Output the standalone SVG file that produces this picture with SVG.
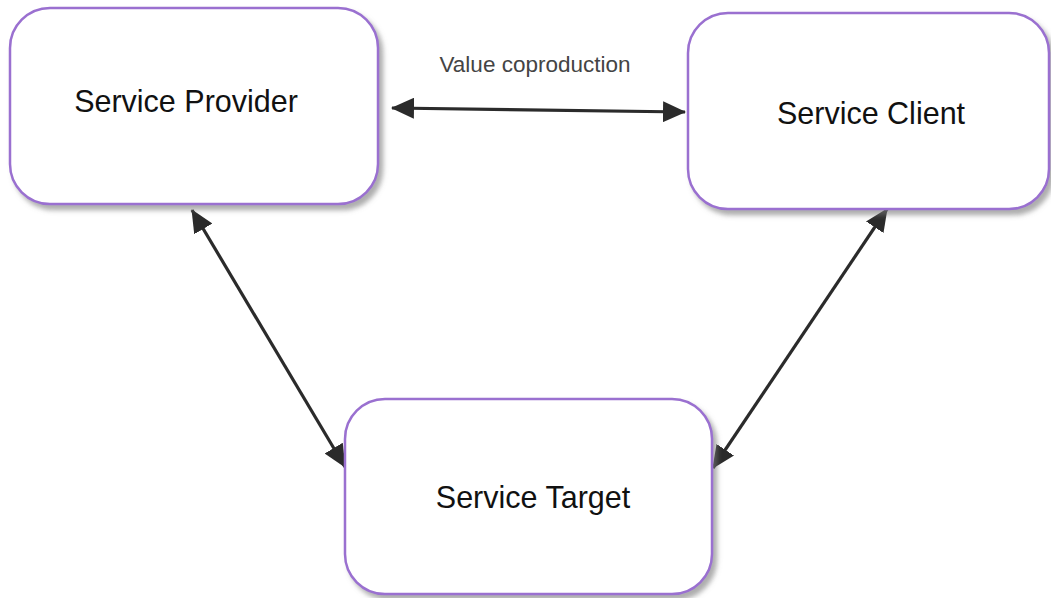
<svg xmlns="http://www.w3.org/2000/svg" width="1051" height="598" viewBox="0 0 1051 598">
  <style>
    .box { fill: #ffffff; stroke: #9a70d0; stroke-width: 2.5; filter: url(#shadow); }
    .label { font-family: "Liberation Sans", Arial, sans-serif; font-size: 30.5px; fill: #111111; text-anchor: middle; }
    .edge-label { font-family: "Liberation Sans", Arial, sans-serif; font-size: 22.5px; fill: #444444; text-anchor: middle; }
    .conn { stroke: #2b2b2b; stroke-width: 3.2; fill: none; marker-start: url(#arrow); marker-end: url(#arrow); }
  </style>
  <defs>
    <filter id="shadow" x="-10%" y="-10%" width="125%" height="130%">
      <feDropShadow dx="4" dy="5" stdDeviation="2.5" flood-color="#777777" flood-opacity="0.6"/>
    </filter>
    <marker id="arrow" markerUnits="userSpaceOnUse" viewBox="0 0 23 21" refX="22" refY="10.5" markerWidth="23" markerHeight="21" orient="auto-start-reverse">
      <path d="M0,0 L23,10.5 L0,21 z" fill="#2b2b2b"/>
    </marker>
  </defs>

  <rect width="1051" height="598" fill="#ffffff"/>

  <g id="connectors">
    <line class="conn" x1="392" y1="108" x2="685" y2="112"/>
    <line class="conn" x1="192" y1="210" x2="345" y2="467"/>
    <line class="conn" x1="887" y1="209" x2="713" y2="468"/>
    <text class="edge-label" x="535" y="72">Value coproduction</text>
  </g>

  <g id="service-provider">
    <rect class="box" x="10" y="8" width="368" height="196" rx="40" ry="40"/>
    <text class="label" x="186" y="112">Service Provider</text>
  </g>

  <g id="service-client">
    <rect class="box" x="688" y="13" width="361" height="196" rx="40" ry="40"/>
    <text class="label" x="871" y="124">Service Client</text>
  </g>

  <g id="service-target">
    <rect class="box" x="345" y="399" width="367" height="195" rx="40" ry="40"/>
    <text class="label" x="533" y="508">Service Target</text>
  </g>
</svg>
